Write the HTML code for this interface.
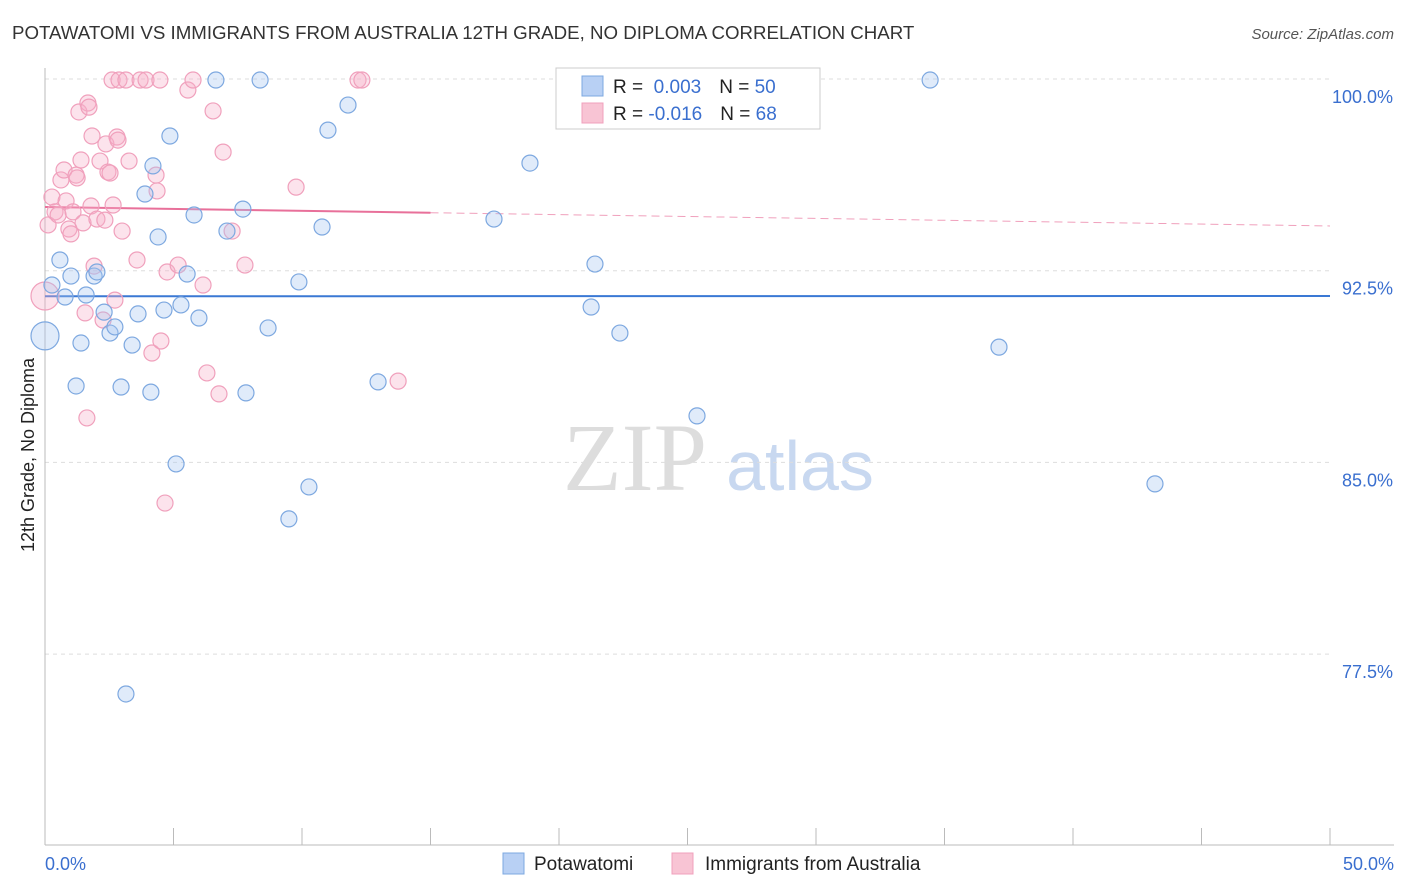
<!DOCTYPE html>
<html><head><meta charset="utf-8">
<style>
body{margin:0;background:#fff;width:1406px;height:892px;overflow:hidden;font-family:"Liberation Sans",sans-serif}
svg{display:block}
</style></head>
<body>
<svg id="chart" width="1406" height="892" xmlns="http://www.w3.org/2000/svg">
<text x="12" y="39" font-size="18.7" fill="#333">POTAWATOMI VS IMMIGRANTS FROM AUSTRALIA 12TH GRADE, NO DIPLOMA CORRELATION CHART</text>
<text x="1394" y="39" font-size="15" fill="#555" font-style="italic" text-anchor="end">Source: ZipAtlas.com</text>
<text x="0" y="0" font-size="18" fill="#222" text-anchor="middle" transform="translate(34,455) rotate(-90)">12th Grade, No Diploma</text>
<g>
<text x="635" y="490" font-size="96" fill="#ddd" font-family="Liberation Serif,serif" text-anchor="middle">ZIP</text>
<text x="800" y="490" font-size="70" fill="#c8d8f0" text-anchor="middle">atlas</text>
</g>
<g id="grid"></g><g id="axes"></g><g id="trend"></g><g id="points"></g>
<g>
<rect x="556" y="68" width="264" height="61" fill="#fff" stroke="#ccc"/>
<rect x="582" y="76" width="21" height="20" fill="#b8d0f4" stroke="#7da8e0"/>
<text x="613" y="93" font-size="19" fill="#222">R = <tspan fill="#3a6fcf">&#160;0.003</tspan><tspan dx="18" fill="#222">N = </tspan><tspan fill="#3a6fcf">50</tspan></text>
<rect x="582" y="103" width="21" height="20" fill="#f8c4d4" stroke="#f0a0bc"/>
<text x="613" y="120" font-size="19" fill="#222">R = <tspan fill="#3a6fcf">-0.016</tspan><tspan dx="18" fill="#222">N = </tspan><tspan fill="#3a6fcf">68</tspan></text>
</g>
<g>
<rect x="503" y="853" width="21" height="21" fill="#b8d0f4" stroke="#7da8e0"/>
<text x="534" y="870" font-size="19" fill="#222">Potawatomi</text>
<rect x="672" y="853" width="21" height="21" fill="#f8c4d4" stroke="#f0a0bc"/>
<text x="705" y="870" font-size="19" fill="#222">Immigrants from Australia</text>
</g>
</svg>
<script>
const yTicks=[100,92.5,85,77.5];
const yTickLabels=["100.0%","92.5%","85.0%","77.5%"];
const xTickLabels=["0.0%","50.0%"];
const blueX=[0,.27,.58,.78,1.01,1.21,1.40,1.60,1.91,2.02,2.30,2.53,2.72,2.96,3.15,3.39,3.62,3.89,4.12,4.20,4.40,4.63,4.86,5.10,5.29,5.53,5.80,5.99,6.65,7.08,7.70,7.82,8.37,8.68,9.49,9.88,10.27,10.78,11.01,11.79,12.96,17.47,18.87,21.25,21.40,22.37,25.37,34.44,37.12,43.19];
const blueY=[89.95,91.94,92.92,91.47,92.29,87.99,89.67,91.55,92.29,92.45,90.88,90.06,90.30,87.95,75.94,89.59,90.81,95.50,87.75,96.60,93.82,90.96,97.77,84.94,91.16,92.37,94.68,90.65,99.96,94.05,94.91,87.72,99.96,90.26,82.79,92.06,84.04,94.21,98.00,98.98,88.15,94.52,96.71,91.08,92.76,90.06,86.82,99.96,89.51,84.16];
const pinkX=[0,.12,.27,.39,.51,.62,.74,.82,.93,1.01,1.09,1.21,1.25,1.32,1.40,1.48,1.56,1.63,1.67,1.71,1.79,1.83,1.91,2.02,2.14,2.26,2.33,2.37,2.45,2.53,2.61,2.65,2.72,2.80,2.84,2.88,3.00,3.15,3.27,3.58,3.70,3.93,4.16,4.32,4.36,4.47,4.51,4.67,4.75,5.18,5.56,5.76,6.15,6.30,6.54,6.77,6.93,7.28,7.78,9.77,12.18,12.33,13.74];
const pinkY=[91.51,94.29,95.38,94.80,94.68,96.05,96.44,95.23,94.13,93.94,94.80,96.24,96.13,98.71,96.83,94.37,90.85,86.74,99.06,98.90,95.03,97.77,92.68,94.52,96.79,90.57,94.48,97.46,96.36,96.32,99.96,95.07,91.35,97.73,97.61,99.96,94.05,99.96,96.79,92.92,99.96,99.96,89.28,96.24,95.62,99.96,89.75,83.41,92.45,92.72,99.57,99.96,91.94,88.50,98.75,87.68,97.14,94.05,92.72,95.77,99.96,99.96,88.18];
const blueTrend=[91.5,91.51];
const pinkTrend=[94.99,94.25];
const NS="http://www.w3.org/2000/svg";
const X=v=>45+v*25.7;
const Y=v=>79+(100-v)*25.56;
function mk(tag,attrs,parent){const e=document.createElementNS(NS,tag);for(const k in attrs)e.setAttribute(k,attrs[k]);document.getElementById(parent).appendChild(e);return e;}
yTicks.forEach((t,i)=>{
 const g=mk('line',{x1:45,x2:1330,y1:Y(t),y2:Y(t),stroke:'#ddd','stroke-dasharray':'4,4'},'grid');
 
 
 const l=mk('text',{x:1393,y:Y(t)+24,'font-size':18,fill:'#3a6fcf','text-anchor':'end'},'axes');
 l.textContent=yTickLabels[i];
 
 
});
const ax=mk('line',{x1:45,x2:45,y1:68,y2:845,stroke:'#bbb'},'axes');


const bx=mk('line',{x1:45,x2:1394,y1:845,y2:845,stroke:'#bbb'},'axes');


for(let i=0;i<=10;i++){
 const t=mk('line',{x1:X(i*5),x2:X(i*5),y1:828,y2:845,stroke:'#bbb'},'axes');
 
 
}
[[0,'start',45],[50,'end',1394]].forEach((d,i)=>{
 const l=mk('text',{x:d[2],y:870,'font-size':18,fill:'#3a6fcf','text-anchor':d[1]},'axes');
 l.textContent=xTickLabels[i];
 
 
});
function pts(xs,ys,fill,stroke,name){
 xs.forEach((x,i)=>{
  const r=(i===0)?14:8;
  const c=mk('circle',{cx:X(x),cy:Y(ys[i]),r:r,fill:fill,stroke:stroke,'stroke-width':1.2},'points');
  
  
 });
}
pts(pinkX,pinkY,'rgba(245,175,200,0.35)','#f0a0bc','point-australia');
pts(blueX,blueY,'rgba(165,198,240,0.35)','#7da8e0','point-potawatomi');
const bl=mk('line',{x1:X(0),x2:X(50),y1:Y(blueTrend[0]),y2:Y(blueTrend[1]),stroke:'#3a78d4','stroke-width':2},'trend');


const py=x=>pinkTrend[0]+(pinkTrend[1]-pinkTrend[0])*x/50;
const ps=mk('line',{x1:X(0),x2:X(15),y1:Y(py(0)),y2:Y(py(15)),stroke:'#e8709a','stroke-width':2},'trend');


const pd=mk('line',{x1:X(15),x2:X(50),y1:Y(py(15)),y2:Y(py(50)),stroke:'#f0a0bc','stroke-width':1,'stroke-dasharray':'8,5'},'trend');


</script>
</body></html>
